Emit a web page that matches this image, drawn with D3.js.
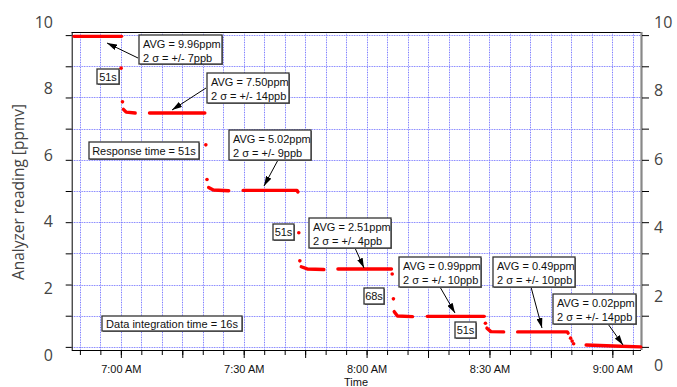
<!DOCTYPE html>
<html><head><meta charset="utf-8">
<script src="https://cdn.jsdelivr.net/npm/d3@7"></script>
<style>body{margin:0;background:#fff} svg{display:block}</style>
</head><body><svg id="c" width="677" height="387"></svg>
<script>
// ---------- data ----------
const runs = [
  [["6:48:34",9.96],["7:00:10",9.96]],
  [["7:00:38",7.62],["7:01:18",7.53],["7:03:30",7.50]],
  [["7:07:00",7.50],["7:20:30",7.50]],
  [["7:21:26",5.11],["7:22:35",5.03],["7:26:20",5.01]],
  [["7:29:51",5.02],["7:43:00",5.02],["7:43:13",4.97]],
  [["7:44:03",2.57],["7:45:30",2.50],["7:49:34",2.48]],
  [["7:53:00",2.50],["8:06:04",2.50]],
  [["8:06:45",1.13],["8:07:32",0.99],["8:11:12",0.97]],
  [["8:14:49",0.98],["8:28:43",0.98]],
  [["8:29:23",0.60],["8:30:21",0.49],["8:33:28",0.48]],
  [["8:36:53",0.48],["8:49:00",0.48],["8:49:12",0.44]],
  [["8:53:36",0.06],["9:00:12",0.03],["9:06:56",0.00]]
];
const transitionDots = [
  ["7:00:04",8.94],["7:00:24",7.86],["7:20:45",6.48],["7:21:02",5.37],
  ["7:43:27",3.66],["7:43:42",2.76],["8:06:15",2.34],["8:06:33",1.54],
  ["8:29:01",0.76],["8:49:49",0.28],["8:50:11",0.19],["8:50:33",0.10]
];
const xDomain = ["6:48:00","9:07:00"];
const xLabelTimes = ["7:00:00","7:30:00","8:00:00","8:30:00","9:00:00"];
const yTickValues = [0,1,2,3,4,5,6,7,8,9,10];
const yLabelValues = [0,2,4,6,8,10];
const annotationTexts = [
  ["AVG = 9.96ppm","2 σ = +/- 7ppb"],
  ["51s"],
  ["AVG = 7.50ppm","2 σ = +/- 14ppb"],
  ["Response time = 51s"],
  ["AVG = 5.02ppm","2 σ = +/- 9ppb"],
  ["51s"],
  ["AVG = 2.51ppm","2 σ = +/- 4ppb"],
  ["68s"],
  ["AVG = 0.99ppm","2 σ = +/- 10ppb"],
  ["51s"],
  ["AVG = 0.49ppm","2 σ = +/- 10ppb"],
  ["AVG = 0.02ppm","2 σ = +/- 14ppb"],
  ["Data integration time = 16s"]
];
// ---------- layout ----------
const boxLayout = [
  {b:[139,35,83,29], a:[138,58,107,43]},
  {b:[97,69,22,15]},
  {b:[207,73,82,30], a:[206,88,172,110]},
  {b:[89,142,110,17]},
  {b:[229,130,82,30], a:[278,160,264,186]},
  {b:[273,224,21,16]},
  {b:[309,218,82,30], a:[355,248,364,268]},
  {b:[364,288,20,16]},
  {b:[399,257,82,30], a:[440,287,455,313]},
  {b:[455,322,21,16]},
  {b:[493,257,82,30], a:[531,287,542,328]},
  {b:[553,294,83,30], a:[608,324,623,345]},
  {b:[102,316,140,15]}
];
const L = 71.7, R = 641, T = 32, B = 350;

const parse = d3.timeParse("%H:%M:%S");
const svg = d3.select("#c");
const x = d3.scaleTime().domain(xDomain.map(parse)).range([L, R]);
const y = d3.scaleLinear().domain([-0.1, 10.1]).range([B, T]);
const yLabL = d3.scaleLinear().domain([0,10]).range([355, 22]);
const yLabR = d3.scaleLinear().domain([0,10]).range([365, 22]);

// grid
const vTimes = d3.timeMinute.every(5).range(parse("6:50:00"), parse("9:05:30"));
const grid = svg.append("g");
function gridLines(col, w, dash) {
  const g = grid.append("g").attr("stroke", col).attr("stroke-width", w).attr("stroke-dasharray", dash);
  g.selectAll("line.v").data(vTimes).join("line")
    .attr("x1", d => Math.round(x(d)) + 0.5).attr("x2", d => Math.round(x(d)) + 0.5)
    .attr("y1", T).attr("y2", B);
  g.selectAll("line.h").data(yTickValues).join("line")
    .attr("y1", d => Math.round(y(d)) + 0.5).attr("y2", d => Math.round(y(d)) + 0.5)
    .attr("x1", L).attr("x2", R);
}
gridLines("#dedeff", 1, null);
gridLines("#7c7cff", 1, "1,1.5");

// frame
svg.append("line").attr("x1", L).attr("x2", R).attr("y1", T + 0.5).attr("y2", T + 0.5).attr("stroke", "#000");
svg.append("line").attr("x1", R + 0.5).attr("x2", R + 0.5).attr("y1", T).attr("y2", B).attr("stroke", "#888").attr("stroke-width", 2.2);

// x axis
const xAxisMinor = d3.axisBottom(x).tickValues(vTimes).tickSize(5).tickFormat("");
svg.append("g").attr("transform", `translate(0,${B})`).call(xAxisMinor)
  .call(g => g.select(".domain").attr("d", `M${L},0.5H${R}`));
const majors = vTimes.filter(d => d.getMinutes() % 15 === 0);
svg.append("g").attr("transform", `translate(0,${B})`)
  .call(d3.axisBottom(x).tickValues(majors).tickSize(8).tickFormat(""))
  .call(g => g.select(".domain").remove());
svg.append("g").attr("transform", `translate(0,${B + 12})`)
  .call(d3.axisBottom(x).tickValues(xLabelTimes.map(parse)).tickSize(0).tickFormat(d3.timeFormat("%-I:%M %p")))
  .call(g => g.select(".domain").remove())
  .call(g => g.selectAll("text").attr("font-family", "Liberation Sans, Arial, sans-serif").attr("font-size", 11).attr("fill", "#111"));

// y axes ticks
svg.append("g").attr("transform", `translate(${L},0)`)
  .call(d3.axisLeft(y).tickValues(yTickValues).tickSize(6).tickFormat(""))
  .call(g => g.select(".domain").attr("d", `M0.5,${T}V${B}`));
svg.append("g").attr("transform", `translate(${R + 1},0)`)
  .call(d3.axisRight(y).tickValues(yTickValues).tickSize(7).tickFormat(""))
  .call(g => g.select(".domain").remove());

// y labels
svg.append("g").attr("transform", `translate(53,0)`)
  .call(d3.axisLeft(yLabL).tickValues(yLabelValues).tickSize(0).tickPadding(0))
  .call(g => g.select(".domain").remove())
  .call(g => g.selectAll("text").attr("font-family", "Open Sans, sans-serif").attr("font-size", 16).attr("fill", "#444"));
svg.append("g").attr("transform", `translate(654,0)`)
  .call(d3.axisRight(yLabR).tickValues(yLabelValues).tickSize(0).tickPadding(0))
  .call(g => g.select(".domain").remove())
  .call(g => g.selectAll("text").attr("font-family", "Open Sans, sans-serif").attr("font-size", 16).attr("fill", "#444"));

svg.append("text").attr("transform", "translate(24,192) rotate(-90)")
  .attr("text-anchor", "middle").attr("font-family", "Open Sans, sans-serif")
  .attr("font-size", 15.5).attr("fill", "#444").text("Analyzer reading [ppmv]");
svg.append("text").attr("x", 356).attr("y", 386).attr("text-anchor", "middle")
  .attr("font-family", "Liberation Sans, Arial, sans-serif").attr("font-size", 11).attr("fill", "#111").text("Time");

// data
const line = d3.line().x(d => x(parse(d[0]))).y(d => y(d[1]));
svg.append("g").selectAll("path").data(runs).join("path")
  .attr("d", line).attr("fill", "none").attr("stroke", "#ff0000")
  .attr("stroke-width", 3.4).attr("stroke-linecap", "round").attr("stroke-linejoin", "round");
svg.append("g").selectAll("circle").data(transitionDots).join("circle")
  .attr("cx", d => x(parse(d[0]))).attr("cy", d => y(d[1])).attr("r", 1.8).attr("fill", "#ff0000");

// annotations
svg.append("defs").append("marker").attr("id", "ah").attr("viewBox", "0 0 10 6")
  .attr("refX", 10).attr("refY", 3).attr("markerWidth", 10).attr("markerHeight", 6)
  .attr("markerUnits", "userSpaceOnUse").attr("orient", "auto")
  .append("path").attr("d", "M0,0L10,3L0,6z").attr("fill", "#000");
const ann = svg.append("g");
annotationTexts.forEach((lines, i) => {
  const lay = boxLayout[i];
  const [bx, by, bw, bh] = lay.b;
  if (lay.a) {
    const [x1, y1, x2, y2] = lay.a;
    ann.append("line").attr("x1", x1).attr("y1", y1).attr("x2", x2).attr("y2", y2)
      .attr("stroke", "#000").attr("stroke-width", 1).attr("marker-end", "url(#ah)");
  }
  ann.append("rect").attr("x", bx + 1).attr("y", by + 1).attr("width", bw).attr("height", bh).attr("fill", "#777");
  ann.append("rect").attr("x", bx).attr("y", by).attr("width", bw).attr("height", bh)
    .attr("fill", "#fff").attr("stroke", "#333").attr("stroke-width", 1.3);
  const t = ann.append("text").attr("font-family", "Liberation Sans, Arial, sans-serif")
    .attr("font-size", 11).attr("fill", "#111");
  if (lines.length === 2) {
    lines.forEach((s, j) => t.append("tspan").attr("x", bx + 4).attr("y", by + 13.2 + j * 14).text(s));
  } else {
    t.attr("x", bx + bw / 2).attr("y", by + bh / 2 + 4).attr("text-anchor", "middle").text(lines[0]);
  }
});
</script></body></html>
